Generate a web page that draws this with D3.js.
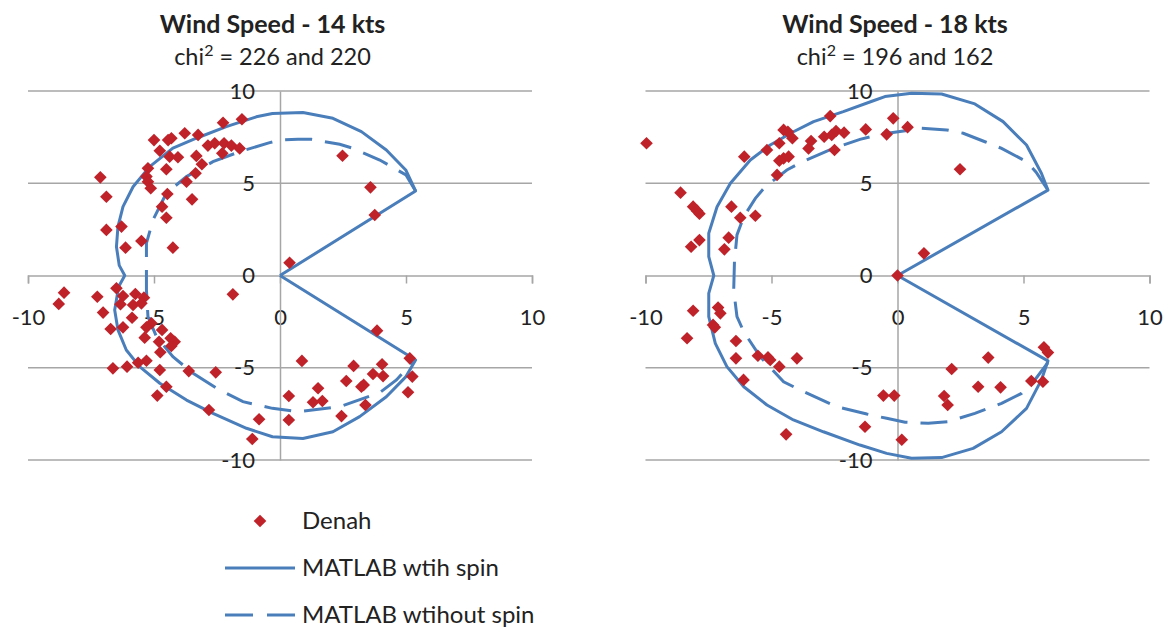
<!DOCTYPE html>
<html>
<head>
<meta charset="utf-8">
<script src="https://cdn.jsdelivr.net/npm/d3@7"></script>
<style>
body { margin: 0; background: #fff; }
svg { display: block; font-family: Lato, "Liberation Sans", sans-serif; }
</style>
</head>
<body>
<svg width="1171" height="628"></svg>
<script>
// axis ticks
const xTicks = [-10, -5, 0, 5, 10];
const yTicks = [-10, -5, 0, 5, 10];

const titles = ["Wind Speed - 14 kts", "Wind Speed - 18 kts"];
const chiValues = ["226 and 220", "196 and 162"];
const legendLabels = ["Denah", "MATLAB wtih spin", "MATLAB wtihout spin"];

// 14 kts - measured points (x, y)
const denah14 = [
  [-2.26,8.28],[-1.51,8.47],[-5.0,7.34],[-4.44,7.34],[-4.31,7.44],[-3.78,7.71],[-3.25,7.62],
  [-2.86,7.04],[-2.59,7.17],[-2.22,7.17],[-1.93,7.04],[-1.6,6.89],[-2.29,6.62],[-4.77,6.76],
  [-4.38,6.44],[-4.05,6.41],[-3.32,6.48],[-3.1,6.03],[-5.24,5.81],[-4.51,5.76],[-3.35,5.54],
  [-5.3,5.36],[-7.13,5.32],[-5.24,5.08],[-3.71,5.08],[-5.13,4.73],[-6.89,4.27],[-4.47,4.42],
  [-4.68,3.73],[-3.49,4.13],[-4.51,3.13],[-6.89,2.47],[-6.29,2.65],[-5.5,1.87],[-6.13,1.51],
  [-4.25,1.51],[2.48,6.49],[3.59,4.78],[3.76,3.28],[0.38,0.69],
  [-8.57,-0.93],[-8.78,-1.54],[-7.25,-1.15],[-6.49,-0.69],[-6.23,-1.11],[-5.74,-1.0],[-5.4,-1.2],
  [-6.33,-1.56],[-5.83,-1.6],[-5.5,-1.51],[-7.02,-2.01],[-5.87,-2.29],[-6.72,-2.9],[-6.23,-2.81],
  [-5.1,-2.59],[-5.3,-2.81],[-4.68,-2.95],[-5.37,-3.37],[-4.8,-3.59],[-4.34,-3.4],[-4.18,-3.59],
  [-4.31,-3.82],[-4.75,-4.16],[-6.63,-5.03],[-6.07,-4.94],[-5.63,-4.73],[-5.3,-4.62],[-4.77,-5.12],
  [-3.62,-5.18],[-2.55,-5.25],[-4.51,-6.03],[-4.87,-6.51],[-2.82,-7.29],[-0.83,-7.79],[-1.1,-8.86],
  [-1.87,-1.02],[0.35,-6.53],[0.35,-7.83],
  [3.85,-2.99],[0.87,-4.63],[5.15,-4.49],[5.25,-5.48],[5.08,-6.33],[2.92,-4.9],[4.05,-4.81],
  [3.69,-5.34],[4.09,-5.45],[2.63,-5.72],[3.32,-5.93],[3.23,-6.03],[1.51,-6.11],[1.31,-6.87],
  [1.68,-6.8],[3.39,-7.02],[2.44,-7.62]
];
const withSpin14 = [
  [0,0],[5.38,4.58],[4.99,5.72],[4.22,6.8],[3.23,7.8],[2.1,8.52],[0.91,8.83],[-0.3,8.78],
  [-0.94,8.6],[-2.13,8.07],[-3.32,7.44],[-4.25,6.9],[-5.17,5.9],[-5.83,4.81],[-6.23,3.73],
  [-6.43,2.65],[-6.49,1.56],[-6.38,0.55],[-6.16,0],[-6.4,-0.6],[-6.56,-1.87],[-6.43,-2.95],
  [-6.1,-4.04],[-5.57,-4.94],[-4.77,-5.84],[-3.71,-6.75],[-2.66,-7.47],[-1.33,-8.28],[-0.3,-8.74],
  [0.91,-8.83],[2.1,-8.47],[3.16,-7.65],[4.22,-6.57],[5.0,-5.48],[5.38,-4.58],[0,0]
];
const withoutSpin14 = [
  [5.38,4.58],[5.0,5.45],[4.42,5.9],[3.96,6.26],[2.9,6.89],[2.37,7.11],[1.25,7.38],[0.71,7.38],
  [0,7.34],[-0.41,7.2],[-1.6,6.71],[-2.66,6.17],[-3.71,5.36],[-4.51,4.46],[-5.04,3.01],
  [-5.3,1.75],[-5.3,0.84],[-5.3,-0.79],[-5.24,-2.23],[-4.9,-3.32],[-4.25,-4.4],[-3.45,-5.3],
  [-2.52,-6.11],[-1.47,-6.84],[-0.3,-7.2],[0.71,-7.38],[2.37,-7.11],[3.96,-6.35],[4.62,-5.66],
  [5.28,-4.67]
];

// 18 kts - measured points (x, y)
const denah18 = [
  [-9.96,7.17],[-8.61,4.49],[-8.11,3.73],[-7.95,3.5],[-7.86,3.35],[-7.86,1.92],[-8.19,1.56],
  [-6.87,1.42],[-6.7,2.05],[-6.59,3.73],[-6.24,3.13],[-5.64,3.24],[-6.08,6.44],[-5.18,6.8],
  [-4.69,7.17],[-4.52,7.89],[-4.35,7.79],[-4.17,7.44],[-4.69,6.22],[-4.52,6.35],[-4.32,6.44],
  [-4.78,5.45],[-3.53,6.89],[-3.43,7.29],[-2.91,7.52],[-2.67,8.64],[-2.61,7.62],[-2.44,7.83],
  [-2.12,7.74],[-2.5,6.8],[-1.26,7.92],[-0.17,8.52],[-0.43,7.65],[0.4,8.04],[2.48,5.76],
  [1.05,1.2],[0,0],
  [-8.11,-1.91],[-7.12,-1.74],[-7.03,-2.05],[-7.32,-2.68],[-7.25,-2.81],[-8.35,-3.4],[-6.41,-3.55],
  [-6.41,-4.49],[-5.54,-4.35],[-5.14,-4.44],[-5.05,-4.58],[-4.69,-4.94],[-3.99,-4.49],[-6.11,-5.66],
  [-4.42,-8.61],[-1.29,-8.2],[-0.56,-6.51],[-0.13,-6.51],[0.17,-8.9],
  [5.81,-3.89],[5.97,-4.18],[3.6,-4.45],[2.15,-5.07],[3.2,-6.03],[4.09,-6.06],[5.31,-5.72],
  [5.77,-5.76],[1.85,-6.53],[1.99,-7.02]
];
const withSpin18 = [
  [0,0],[5.97,4.63],[5.71,5.54],[5.12,7.07],[4.19,8.34],[3.07,9.3],[1.75,9.84],[0.56,9.88],
  [-0.5,9.7],[-0.96,9.47],[-2.15,8.88],[-3.33,8.34],[-4.13,7.79],[-5.05,7.07],[-5.84,6.26],
  [-6.63,5.0],[-7.16,3.73],[-7.49,2.29],[-7.49,1.02],[-7.29,0],[-7.49,-0.97],[-7.49,-2.23],
  [-7.23,-3.68],[-6.77,-4.94],[-6.1,-6.03],[-5.18,-7.02],[-4.13,-7.83],[-2.94,-8.47],[-1.49,-9.19],
  [-0.43,-9.64],[0.56,-9.91],[1.75,-9.87],[3.0,-9.37],[4.13,-8.47],[5.12,-7.2],[5.71,-5.66],
  [5.97,-4.63],[0,0]
];
const withoutSpin18 = [
  [5.97,4.63],[5.5,5.6],[5.12,6.17],[4.13,6.89],[3.47,7.25],[2.61,7.71],[1.95,7.89],[0.96,7.98],
  [0.03,7.79],[-0.69,7.65],[-1.49,7.38],[-2.54,6.89],[-3.86,6.11],[-4.39,5.72],[-5.25,4.81],
  [-5.64,4.18],[-6.1,3.19],[-6.37,2.2],[-6.47,0.75],[-6.5,-0.79],[-6.37,-2.23],[-6.1,-3.05],
  [-5.45,-4.4],[-4.52,-5.76],[-3.86,-6.21],[-2.41,-7.11],[-1.22,-7.51],[-0.43,-7.74],[0.3,-7.95],
  [1.22,-8.01],[2.01,-7.92],[3.07,-7.47],[4.13,-6.93],[4.92,-6.39],[5.45,-5.66],[5.97,-4.72]
];

const svg = d3.select("svg");
const blue = "#4a7ebb", red = "#c0222a", grid = "#a6a6a6", ink = "#222";
const font = "Lato, 'Liberation Sans', sans-serif";
const diamond = d3.symbol().type(d3.symbolSquare).size(80);

function panel(left, titleX, title, chi, denah, withSpin, withoutSpin) {
  const x = d3.scaleLinear().domain([-10, 10]).range([left, left + 504]);
  const y = d3.scaleLinear().domain([-10, 10]).range([460, 91]);
  const g = svg.append("g");

  // horizontal gridlines
  g.selectAll("line.grid")
    .data(yTicks.filter(d => d !== 0))
    .enter().append("line")
    .attr("x1", x(-10)).attr("x2", x(10))
    .attr("y1", d => y(d)).attr("y2", d => y(d))
    .attr("stroke", grid).attr("stroke-width", 1.5);

  const xAxis = g.append("g")
    .attr("transform", `translate(0,${y(0)})`)
    .call(d3.axisBottom(x).tickValues(xTicks).tickFormat(d => String(d)).tickSize(8).tickPadding(26));
  const yAxis = g.append("g")
    .attr("transform", `translate(${x(0)},0)`)
    .call(d3.axisLeft(y).tickValues(yTicks).tickFormat(d => String(d)).tickSize(0).tickPadding(25));

  [xAxis, yAxis].forEach(a => {
    a.attr("font-size", null).attr("font-family", null);
    a.selectAll("path, line").attr("stroke", grid).attr("stroke-width", 1.5);
    a.selectAll("text").attr("fill", ink).style("font-size", "22px").style("font-family", font);
  });

  const line = d3.line().x(d => x(d[0])).y(d => y(d[1]));

  g.append("path").datum(withSpin)
    .attr("d", line).attr("fill", "none")
    .attr("stroke", blue).attr("stroke-width", 3).attr("stroke-linejoin", "round");

  g.append("path").datum(withoutSpin)
    .attr("d", line).attr("fill", "none")
    .attr("stroke", blue).attr("stroke-width", 3).attr("stroke-dasharray", "27,13");

  g.selectAll("path.pt")
    .data(denah)
    .enter().append("path")
    .attr("d", diamond)
    .attr("transform", d => `translate(${x(d[0])},${y(d[1])}) rotate(45)`)
    .attr("fill", red);

  // titles
  g.append("text")
    .attr("x", titleX).attr("y", 33)
    .attr("text-anchor", "middle")
    .style("font-size", "25px").style("font-weight", "bold")
    .attr("fill", ink)
    .text(title);

  const sub = g.append("text")
    .attr("x", titleX).attr("y", 65)
    .attr("text-anchor", "middle")
    .style("font-size", "23.5px")
    .attr("fill", ink);
  sub.append("tspan").text("chi");
  sub.append("tspan").attr("dy", -9).style("font-size", "16px").text("2");
  sub.append("tspan").attr("dy", 9).text(" = " + chi);
}

panel(28, 272.5, titles[0], chiValues[0], denah14, withSpin14, withoutSpin14);
panel(645.5, 895, titles[1], chiValues[1], denah18, withSpin18, withoutSpin18);

// legend
const legend = svg.append("g");
const rows = legend.selectAll("g")
  .data(legendLabels)
  .enter().append("g")
  .attr("transform", (d, i) => `translate(0,${521 + i * 47})`);

rows.filter((d, i) => i === 0).append("path")
  .attr("d", diamond)
  .attr("transform", "translate(260,0) rotate(45)")
  .attr("fill", red);

rows.filter((d, i) => i > 0).append("line")
  .attr("x1", 225).attr("x2", 295)
  .attr("stroke", blue).attr("stroke-width", 3)
  .attr("stroke-dasharray", (d, i) => i === 1 ? "28,14" : null);

rows.append("text")
  .attr("x", 302).attr("y", 7.5)
  .style("font-size", "24px")
  .attr("fill", ink)
  .text(d => d);
</script>
</body>
</html>
